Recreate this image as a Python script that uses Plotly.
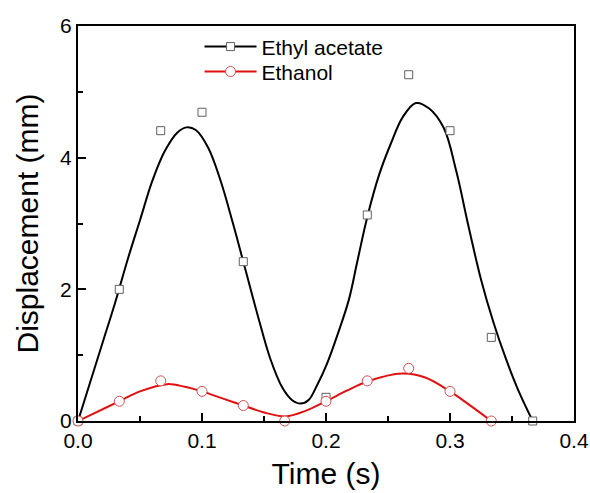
import plotly.graph_objects as go

# Measured displacement samples (s, mm)
time_pts = [0.0, 0.0333, 0.0667, 0.1, 0.1333, 0.2, 0.2333, 0.2667, 0.3, 0.3333, 0.3667]
ethyl_acetate = [0.0, 2.0, 4.41, 4.69, 2.42, 0.36, 3.13, 5.26, 4.41, 1.27, 0.0]

time_eth = [0.0, 0.0333, 0.0667, 0.1, 0.1333, 0.1667, 0.2, 0.2333, 0.2667, 0.3, 0.3333]
ethanol = [0.0, 0.30, 0.61, 0.45, 0.235, 0.0, 0.30, 0.61, 0.80, 0.45, 0.0]

# Fitted trend curves (s, mm)
fit_t_ea = [0.0, 0.01, 0.02, 0.03, 0.04, 0.05, 0.06, 0.07, 0.08, 0.0875,
            0.095, 0.105, 0.115, 0.125, 0.135, 0.145, 0.155, 0.165, 0.1725, 0.1794,
            0.186, 0.193, 0.201, 0.21, 0.2184, 0.225, 0.2333, 0.243, 0.252, 0.262,
            0.2725, 0.283, 0.295, 0.305, 0.315, 0.325, 0.335, 0.345, 0.355, 0.3667]
fit_y_ea = [0.0, 0.6, 1.2, 1.8, 2.45, 3.05, 3.65, 4.1, 4.38, 4.46,
            4.42, 4.15, 3.65, 3.0, 2.3, 1.6, 0.95, 0.5, 0.32, 0.265,
            0.32, 0.55, 0.88, 1.35, 1.84, 2.4, 3.1, 3.75, 4.2, 4.62,
            4.83, 4.75, 4.45, 3.8, 2.95, 2.15, 1.5, 0.95, 0.47, 0.0]

fit_t_et = [0.0, 0.0333, 0.05, 0.0719, 0.086, 0.1, 0.117, 0.1333, 0.15, 0.1673,
            0.183, 0.2, 0.2167, 0.2333, 0.2614, 0.28, 0.3, 0.3167, 0.3333]
fit_y_et = [0.0, 0.30, 0.45, 0.56, 0.52, 0.45, 0.34, 0.235, 0.13, 0.07,
            0.15, 0.30, 0.46, 0.60, 0.72, 0.66, 0.45, 0.23, 0.0]

BLACK = "#000000"
RED = "#e01010"
SQ_EDGE = "#606060"
CIRC_EDGE = "#d05050"
FONT = "Arial, Liberation Sans, sans-serif"

fig = go.Figure()

# Trend curves
fig.add_trace(go.Scatter(x=fit_t_ea, y=fit_y_ea, mode="lines",
                         line=dict(color=BLACK, width=2, shape="spline", smoothing=1.0),
                         showlegend=False, hoverinfo="skip"))
fig.add_trace(go.Scatter(x=fit_t_et, y=fit_y_et, mode="lines",
                         line=dict(color=RED, width=2, shape="spline", smoothing=1.0),
                         showlegend=False, hoverinfo="skip"))

# Measured points
fig.add_trace(go.Scatter(x=time_pts, y=ethyl_acetate, mode="markers",
                         marker=dict(symbol="square", size=8, color="white",
                                     line=dict(color=SQ_EDGE, width=1)),
                         showlegend=False, cliponaxis=False))
fig.add_trace(go.Scatter(x=time_eth, y=ethanol, mode="markers",
                         marker=dict(symbol="circle", size=10, color="white",
                                     line=dict(color=CIRC_EDGE, width=1)),
                         showlegend=False, cliponaxis=False))

# Legend entries (one legend box per series for tight row spacing)
fig.add_trace(go.Scatter(x=[None], y=[None], mode="lines+markers", name="Ethyl acetate",
                         line=dict(color=BLACK, width=2),
                         marker=dict(symbol="square", size=8, color="white",
                                     line=dict(color=SQ_EDGE, width=1)),
                         legend="legend"))
fig.add_trace(go.Scatter(x=[None], y=[None], mode="lines+markers", name="Ethanol",
                         line=dict(color=RED, width=2),
                         marker=dict(symbol="circle", size=10, color="white",
                                     line=dict(color=CIRC_EDGE, width=1)),
                         legend="legend2"))

axis_common = dict(
    showline=True, linecolor=BLACK, linewidth=2, mirror=True,
    showgrid=False, zeroline=False, automargin=False,
    ticks="inside", ticklen=8, tickwidth=1.5, tickcolor=BLACK,
    tickfont=dict(family=FONT, size=21, color=BLACK),
)

fig.update_xaxes(range=[0, 0.4], tickvals=[0, 0.1, 0.2, 0.3, 0.4],
                 ticktext=["0.0", "0.1", "0.2", "0.3", "0.4"],
                 minor=dict(tickvals=[0.05, 0.15, 0.25, 0.35], ticks="inside",
                            ticklen=5, tickwidth=1.5, tickcolor=BLACK),
                 title=dict(text="Time (s)", font=dict(family=FONT, size=30, color=BLACK),
                            standoff=12),
                 **axis_common)
fig.update_yaxes(range=[0, 6], tickvals=[0, 2, 4, 6],
                 minor=dict(tickvals=[1, 3, 5], ticks="inside",
                            ticklen=5, tickwidth=1.5, tickcolor=BLACK),
                 title=dict(text="Displacement (mm)", font=dict(family=FONT, size=30, color=BLACK),
                            standoff=13),
                 **axis_common)

legend_style = dict(xanchor="left", yanchor="middle", bgcolor="rgba(0,0,0,0)",
                    itemwidth=52, font=dict(family=FONT, size=21, color=BLACK))

fig.update_layout(
    width=590, height=493,
    margin=dict(l=78, r=16, t=26, b=72),
    paper_bgcolor="white", plot_bgcolor="white",
    font=dict(family=FONT, color=BLACK),
    legend=dict(x=0.245, y=0.947, **legend_style),
    legend2=dict(x=0.245, y=0.884, **legend_style),
)

fig.write_html("out.html")
